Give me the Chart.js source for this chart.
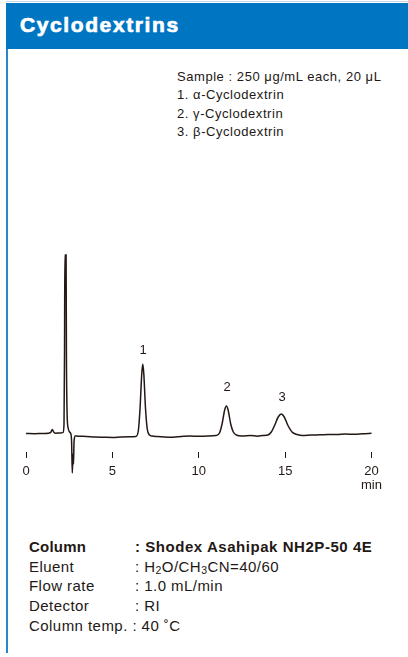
<!DOCTYPE html>
<html>
<head>
<meta charset="utf-8">
<script src="https://cdn.jsdelivr.net/npm/chart.js@4.4.1/dist/chart.umd.min.js"></script>
<style>
  html, body { margin: 0; padding: 0; background: #fff; }
  body { width: 408px; height: 657px; position: relative; overflow: hidden;
         font-family: "Liberation Sans", Arial, Helvetica, sans-serif; color: #231815; }
  #topline { position: absolute; left: 6px; top: 1px; width: 402px; height: 1px; background: #c9d6e6; }
  #header { position: absolute; left: 6px; top: 3px; width: 402px; height: 46px; background: #0075c2; }
  #header span { position: absolute; left: 14px; top: 10px; color: #fff; font-weight: bold;
                 font-size: 21px; letter-spacing: 1.6px; -webkit-text-stroke: 0.7px #fff; }
  #leftline { position: absolute; left: 6px; top: 49px; width: 1.6px; height: 604px; background: #2a86cc; }
  #sample { position: absolute; left: 177px; top: 68px; font-size: 13px; line-height: 18.4px; letter-spacing: 0.55px; }
  #cond { position: absolute; left: 29px; top: 537px; font-size: 15px; line-height: 19.7px; letter-spacing: 0.45px; }
  #cond .row { position: relative; height: 19.7px; white-space: nowrap; }
  #cond .k { position: absolute; left: 0; }
  #cond .v { position: absolute; left: 106px; }
  #cond .b { font-weight: bold; letter-spacing: 0.55px; }
  #cond .b .k { letter-spacing: 0.2px; }
  #chartbox { position: absolute; left: 0; top: 230px; width: 408px; height: 280px; }
</style>
</head>
<body>
<div id="topline"></div>
<div id="header"><span>Cyclodextrins</span></div>
<div id="leftline"></div>
<div id="sample">
  Sample : 250 μg/mL each, 20 μL<br>
  1. α-Cyclodextrin<br>
  2. γ-Cyclodextrin<br>
  3. β-Cyclodextrin
</div>
<div id="chartbox"><canvas id="c" width="408" height="280"></canvas></div>
<div id="cond">
  <div class="row b"><span class="k">Column</span><span class="v">: Shodex Asahipak NH2P-50 4E</span></div>
  <div class="row"><span class="k">Eluent</span><span class="v">: H<sub style="font-size:10.5px;vertical-align:-2px;line-height:0">2</sub>O/CH<sub style="font-size:10.5px;vertical-align:-2px;line-height:0">3</sub>CN=40/60</span></div>
  <div class="row"><span class="k">Flow rate</span><span class="v">: 1.0 mL/min</span></div>
  <div class="row"><span class="k">Detector</span><span class="v">: RI</span></div>
  <div class="row"><span class="k">Column temp. : 40 ˚C</span></div>
</div>
<script>
// Retention time (min) and detector response (arbitrary units)
const times = [
  0, 0.5, 1.0, 1.3, 1.45, 1.52, 1.6, 1.7, 2.0, 2.15,
  2.2, 2.23, 2.25, 2.32, 2.34, 2.38, 2.44, 2.52, 2.6, 2.64,
  2.68, 2.72, 2.75, 2.78, 2.84, 3.0, 3.5, 4.0, 4.5, 5.0,
  5.5, 6.0, 6.35, 6.5, 6.6, 6.7, 6.76, 6.82, 6.92, 7.02,
  7.15, 7.3, 7.6, 8.0, 8.5, 9.0, 9.5, 10.0, 10.5, 11.0,
  11.2, 11.35, 11.5, 11.6, 11.7, 11.85, 12.0, 12.2, 12.5, 13.0,
  13.4, 13.7, 14.0, 14.2, 14.4, 14.6, 14.78, 14.95, 15.15, 15.4,
  15.7, 16.0, 16.5, 17.0, 17.5, 18.0, 18.5, 19.0, 19.5, 20.0
];
const response = [
  0.5, 0.3, 0.6, 0.8, 2, 4.5, 2, 0.8, 1, 1.5,
  10, 80, 179, 179, 80, 20, 6, 2, 0, -8,
  -39, -20, -30, -8, -2, -2.2, -2.5, -3, -3.2, -3.4,
  -3, -2.8, -2.6, 3, 25, 60, 70, 60, 25, 5,
  -1, -2, -2.5, -3, -3.2, -2.5, -2, -2.3, -2, -1.6,
  1, 10, 24, 28, 24, 10, 2, -1.3, -2, -1.5,
  -2.2, -1.5, -1, 2, 9, 17, 20, 17, 9, 2,
  -0.5, -1.5, -1, -0.8, -0.5, -0.6, 0, -0.3, 0.3, 0.7
];
// Peak labels
const peakNames = ['1', '2', '3'];
const peakLabelTimes = [6.78, 11.64, 14.82];
const peakLabelLevels = [84, 47, 37];
// X axis ticks
const xTickValues = [0, 5, 10, 15, 20];
const xTickLabels = ['0', '5', '10', '15', ['20', 'min']];

const ink = '#231815';
const points = times.map((t, i) => ({ x: t, y: response[i] }));

const peakLabelPlugin = {
  id: 'peakLabels',
  afterDatasetsDraw(chart) {
    const { ctx, scales } = chart;
    ctx.save();
    ctx.fillStyle = ink;
    ctx.font = '13px "Liberation Sans", Arial, sans-serif';
    ctx.textAlign = 'center';
    ctx.textBaseline = 'middle';
    peakNames.forEach((n, i) => {
      ctx.fillText(n, scales.x.getPixelForValue(peakLabelTimes[i]), scales.y.getPixelForValue(peakLabelLevels[i]));
    });
    ctx.restore();
  }
};

new Chart(document.getElementById('c'), {
  type: 'line',
  data: {
    datasets: [{
      data: points,
      borderColor: ink,
      borderWidth: 1.5,
      pointRadius: 0,
      fill: false,
      cubicInterpolationMode: 'monotone',
      clip: false
    }]
  },
  options: {
    responsive: false,
    animation: false,
    events: [],
    layout: { padding: { left: 26, right: 36.5, top: 20, bottom: 18 } },
    plugins: { legend: { display: false }, tooltip: { enabled: false } },
    scales: {
      x: {
        type: 'linear',
        min: 0, max: 20,
        afterBuildTicks(scale) { scale.ticks = xTickValues.map(v => ({ value: v })); },
        afterFit(scale) { scale.height = 40; },
        border: { display: false },
        grid: { drawOnChartArea: false, drawTicks: true, tickLength: 6, color: ink, lineWidth: 1 },
        ticks: {
          padding: 6,
          maxRotation: 0,
          autoSkip: false,
          color: ink,
          font: { family: '"Liberation Sans", Arial, sans-serif', size: 13, lineHeight: 1.1 },
          callback(value) { const i = xTickValues.indexOf(value); return i >= 0 ? xTickLabels[i] : ''; }
        }
      },
      y: {
        display: false,
        min: -18, max: 184
      }
    }
  },
  plugins: [peakLabelPlugin]
});
</script>
</body>
</html>
